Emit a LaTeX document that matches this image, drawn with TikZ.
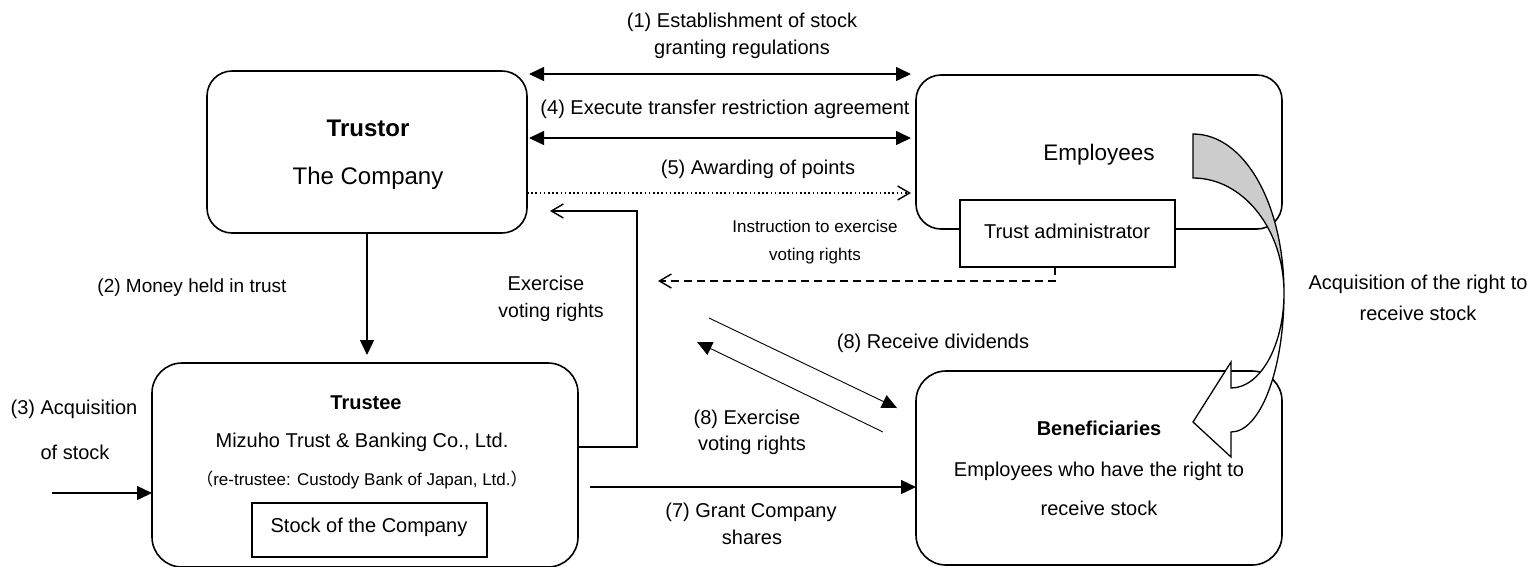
\documentclass[tikz,border=0pt]{standalone}
\usepackage{fontspec}
\setmainfont{Liberation Sans}
\newfontfamily\cjkfont{Noto Sans CJK JP}
\usetikzlibrary{arrows.meta}
\newcommand{\fsz}[1]{\fontsize{#1}{#1}\selectfont}
\begin{document}
\begin{tikzpicture}[x=1pt,y=-1pt,
  every node/.style={inner sep=0pt, outer sep=0pt},
  bigbox/.style={draw, line width=1.6pt, rounded corners=25pt},
  plainbox/.style={draw, line width=1.6pt, fill=white},
  lbl/.style={anchor=mid, font=\fsz{20}},
  conn/.style={line width=1.4pt, -{Triangle[length=15pt,width=14pt]}},
  dconn/.style={line width=1.4pt, {Triangle[length=15pt,width=14pt]}-{Triangle[length=15pt,width=14pt]}},
  thinconn/.style={line width=0.9pt, -{Triangle[length=15pt,width=14pt]}},
  openconn/.style={line width=1.4pt, -{Straight Barb[length=12pt,width=14pt,line width=1.4pt]}},
]
\useasboundingbox (0,0) rectangle (1531,566);

% boxes
\node[bigbox, minimum width=320pt, minimum height=162pt] (trustor) at (367,152) {};
\node[bigbox, minimum width=366pt, minimum height=154pt] (employees) at (1099,152) {};
\node[plainbox, minimum width=215pt, minimum height=67pt] (admin) at (1067.5,233.5) {};
\node[bigbox, rounded corners=30pt, minimum width=426pt, minimum height=204pt] (trustee) at (365,465) {};
\node[plainbox, minimum width=235pt, minimum height=54pt] (stock) at (369.5,530) {};
\node[bigbox, rounded corners=30pt, minimum width=366pt, minimum height=194pt] (benef) at (1099,468) {};

% texts in boxes
\node[anchor=mid, font=\fsz{24}\bfseries] (t1) at (368,134) {Trustor};
\node[anchor=mid, font=\fsz{24}] (t2) at (368,182) {The Company};
\node[anchor=mid, font=\fsz{22.5}] (t3) at (1099,158) {Employees};
\node[lbl] (t4) at (1067,236) {Trust administrator};
\node[lbl, font=\fsz{20}\bfseries] (t5) at (366,407) {Trustee};
\node[lbl] (t6) at (362,445) {Mizuho Trust \& Banking Co., Ltd.};
\node[anchor=mid, font=\fsz{17}] (t7) at (362,483) {{\cjkfont （}re-trustee: Custody Bank of Japan, Ltd.{\cjkfont ）}};
\node[lbl] (t8) at (369,530) {Stock of the Company};
\node[lbl, font=\fsz{20}\bfseries] (t9) at (1099,433) {Beneficiaries};
\node[lbl] (t10) at (1099,474) {Employees who have the right to};
\node[lbl] (t11) at (1099,513) {receive stock};

% coordinates
\coordinate (y1) at (0,74);
\coordinate (y4) at (0,138);
\coordinate (y5) at (0,193);
\coordinate (a3) at (52,493);
\coordinate (evs) at (0,447);
\coordinate (evc) at (637,447);
\coordinate (evt) at (637,211);
\coordinate (evtip) at (550,211);
\coordinate (dv) at (1055,281);
\coordinate (dtip) at (658,281);
\coordinate (r1) at (709,318);
\coordinate (r2) at (897,408);
\coordinate (e1) at (883,432);
\coordinate (e2) at (697,342);
\coordinate (g1) at (590,487);

% connectors
\draw[dconn, shorten <=2pt, shorten >=5pt] (trustor.east |- y1) -- (employees.west |- y1);
\draw[dconn, shorten <=2pt, shorten >=5pt] (trustor.east |- y4) -- (employees.west |- y4);
\draw[openconn, dash pattern=on 1.6pt off 2.6pt, shorten >=5pt] (trustor.east |- y5) -- (employees.west |- y5);
\draw[conn, shorten >=8pt] (trustor.south) -- (trustor.south |- trustee.north);
\draw[conn] (a3) -- (trustee.west |- a3);
\draw[openconn] (trustee.east |- evs) -- (evc) -- (evt) -- (evtip);
\draw[openconn, dash pattern=on 8pt off 5pt] (admin.south -| dv) -- (dv) -- (dtip);
\draw[thinconn] (r1) -- (r2);
\draw[thinconn] (e1) -- (e2);
\draw[conn] (g1) -- (benef.west |- g1);

% curved arrow
\draw[line width=1.3pt, fill=white, line join=miter]
  (1284,293) .. controls (1284,345.5) and (1260.3,388) .. (1231,388)
  -- (1231,362) -- (1193,422) -- (1231,457) -- (1231,432)
  .. controls (1260.3,432) and (1284,369.8) .. (1284,293) -- cycle;
\draw[line width=1.3pt, fill={rgb,255:red,204;green,204;blue,204}]
  (1193,134) .. controls (1245,134) and (1284,205.2) .. (1284,293)
  .. controls (1284,229.5) and (1243.3,178) .. (1193,178) -- cycle;

% labels
\node[lbl] (l1a) at (742,25) {(1) Establishment of stock};
\node[lbl] (l1b) at (742,52) {granting regulations};
\node[lbl] (l4) at (725,112) {(4) Execute transfer restriction agreement};
\node[lbl] (l5) at (758,172) {(5) Awarding of points};
\node[lbl, font=\fsz{19}] (l2) at (192,290) {(2) Money held in trust};
\node[lbl] (l3a) at (74,412) {(3) Acquisition};
\node[lbl] (l3b) at (75,457) {of stock};
\node[lbl] (lea) at (546,288) {Exercise};
\node[lbl, font=\fsz{19.5}] (leb) at (551,315) {voting rights};
\node[anchor=mid, font=\fsz{17}] (lia) at (815,230) {Instruction to exercise};
\node[anchor=mid, font=\fsz{17}] (lib) at (815,258) {voting rights};
\node[lbl] (l8a) at (933,346) {(8) Receive dividends};
\node[lbl] (l8b) at (747,422) {(8) Exercise};
\node[lbl] (l8c) at (752,448) {voting rights};
\node[lbl] (l7a) at (751,515) {(7) Grant Company};
\node[lbl] (l7b) at (752,542) {shares};
\node[lbl] (lacq) at (1418,287) {Acquisition of the right to};
\node[lbl] (lacqb) at (1418,318) {receive stock};
\end{tikzpicture}
\end{document}
